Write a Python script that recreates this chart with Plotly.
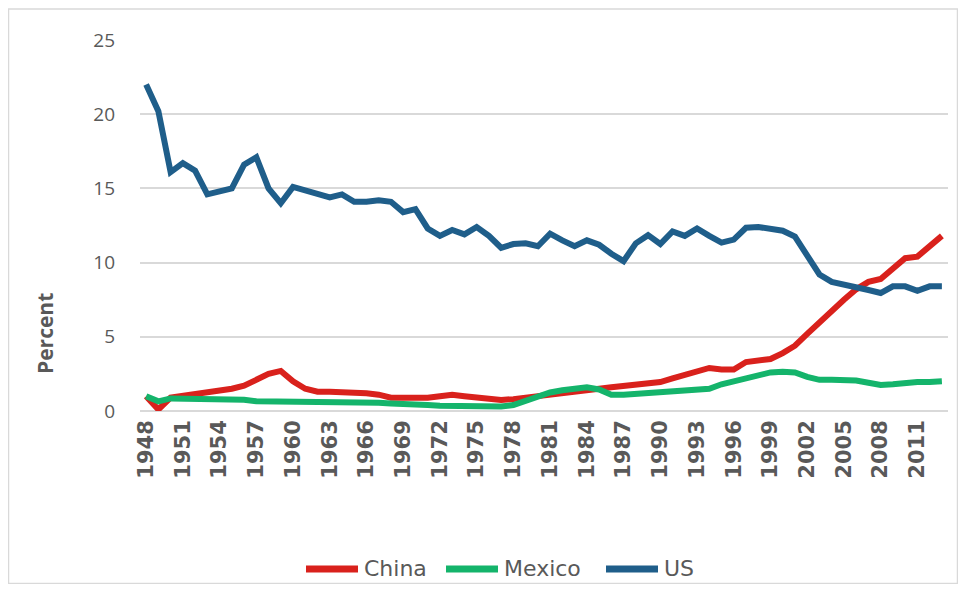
import plotly.graph_objects as go

years = list(range(1948, 2014))

china = [1.0, 0.1, 0.9, 1.0, 1.1, 1.2, 1.4, 1.5, 1.7, 2.1, 2.5, 2.7, 2.0, 1.5, 1.3, 1.3,
         1.3, 1.3, 1.2, 1.1, 0.9, 0.9, 0.85, 0.9, 1.0, 1.1, 1.0, 0.9, 0.8, 0.75, 0.8, 0.9,
         1.1, 1.15, 1.2, 1.3, 1.4, 1.5, 1.6, 1.7, 1.75, 1.8, 1.95, 2.2, 2.4, 2.6, 2.9, 2.8,
         2.8, 3.3, 3.4, 3.5, 3.9, 4.4, 5.2, 6.0, 6.8, 7.5, 8.2, 8.7, 8.9, 9.6, 10.3, 10.4,
         11.1, 11.8]

mexico = [1.0, 0.65, 0.85, 0.85, 0.75, 0.75, 0.8, 0.85, 0.75, 0.65, 0.65, 0.6, 0.55, 0.6,
          0.65, 0.63, 0.6, 0.6, 0.55, 0.55, 0.5, 0.5, 0.47, 0.4, 0.35, 0.35, 0.3, 0.25, 0.25,
          0.3, 0.4, 0.7, 1.0, 1.25, 1.4, 1.55, 1.6, 1.45, 1.1, 1.1, 1.15, 1.15, 1.2, 1.3, 1.3,
          1.4, 1.5, 1.8, 2.0, 2.2, 2.45, 2.6, 2.65, 2.6, 2.3, 2.1, 2.1, 2.1, 2.05, 1.9, 1.75,
          1.8, 1.9, 1.95, 1.95, 2.0]

us = [22.0, 20.2, 16.1, 16.7, 16.2, 14.6, 14.8, 15.0, 16.6, 17.1, 15.0, 14.0, 15.1, 14.9,
      14.7, 14.4, 14.6, 14.1, 14.1, 14.2, 14.1, 13.4, 13.6, 12.3, 11.8, 12.2, 11.9, 12.4,
      11.8, 11.0, 11.25, 11.3, 11.1, 11.95, 11.5, 11.1, 11.5, 11.2, 10.6, 10.1, 11.3, 11.85,
      11.25, 12.1, 11.8, 12.3, 11.8, 11.35, 11.55, 12.35, 12.4, 12.25, 12.15, 11.75, 10.4,
      9.2, 8.7, 8.55, 8.4, 8.15, 7.95, 8.4, 8.4, 8.1, 8.4, 8.4]

tick_years = list(range(1948, 2012, 3))

series_names = ["China", "Mexico", "US"]
series_values = [china, mexico, us]
series_colors = ["#d9211c", "#14b46b", "#1f5e8a"]

fig = go.Figure()
for name, vals, col in zip(series_names, series_values, series_colors):
    fig.add_trace(go.Scatter(x=years, y=vals, name=name, mode="lines",
                             line=dict(color=col, width=6), showlegend=False))

# The page body has an 8px default margin, so the figure is drawn at (8, 8).
OFF = 8
W, H = 966 - 2 * OFF, 592 - 2 * OFF
# plot area in page pixels: x 140..948, y 40..411
L, R, T, B = 140 - OFF, W - (948 - OFF), 40 - OFF, H - (411 - OFF)
pw, ph = W - L - R, H - T - B

def px2paper_x(px):
    return (px - OFF - L) / pw

def px2paper_y(py):
    return (H - B - (py - OFF)) / ph

legend_line_x = [303, 443, 603]
legend_y = 569
shapes = [dict(type="rect", xref="paper", yref="paper",
               x0=px2paper_x(OFF + 0.5), x1=px2paper_x(966 - OFF - 0.5),
               y0=px2paper_y(592 - OFF - 0.5), y1=px2paper_y(OFF + 1),
               line=dict(color="#d9d9d9", width=1.5), fillcolor="rgba(0,0,0,0)",
               layer="below")]
annotations = [dict(text="<b>Percent</b>", xref="paper", yref="paper",
                    x=px2paper_x(45), y=px2paper_y(334), textangle=-90,
                    showarrow=False, xanchor="center", yanchor="middle",
                    font=dict(family="Open Sans", size=21, color="#595959"))]
for lx, name, col in zip(legend_line_x, series_names, series_colors):
    shapes.append(dict(type="line", xref="paper", yref="paper",
                       x0=px2paper_x(lx + 3), x1=px2paper_x(lx + 55),
                       y0=px2paper_y(legend_y), y1=px2paper_y(legend_y),
                       line=dict(color=col, width=7)))
    annotations.append(dict(text=name, xref="paper", yref="paper",
                            x=px2paper_x(lx + 59), y=px2paper_y(legend_y - 1),
                            xanchor="left", yanchor="middle", showarrow=False,
                            font=dict(family="DejaVu Sans", size=22, color="#595959")))

fig.update_layout(
    width=W, height=H,
    margin=dict(l=L, r=R, t=T, b=B, autoexpand=False),
    paper_bgcolor="white", plot_bgcolor="white",
    showlegend=False,
    xaxis=dict(range=[1947.5, 2013.5], tickvals=tick_years,
               ticktext=[str(y) for y in tick_years],
               tickangle=-90, showgrid=False, zeroline=False, showline=False,
               tickfont=dict(family="DejaVu Sans", size=21, color="#595959", weight="bold"),
               ticks="", ticklabelstandoff=4),
    yaxis=dict(range=[0, 25], dtick=5, showgrid=True, gridcolor="#d9d9d9", gridwidth=2,
               zeroline=True, zerolinecolor="#d9d9d9", zerolinewidth=2, showline=False,
               tickfont=dict(family="Open Sans", size=19, color="#595959"),
               ticklabelstandoff=24, ticks=""),
    shapes=shapes,
    annotations=annotations,
)

fig.write_html("out.html")
